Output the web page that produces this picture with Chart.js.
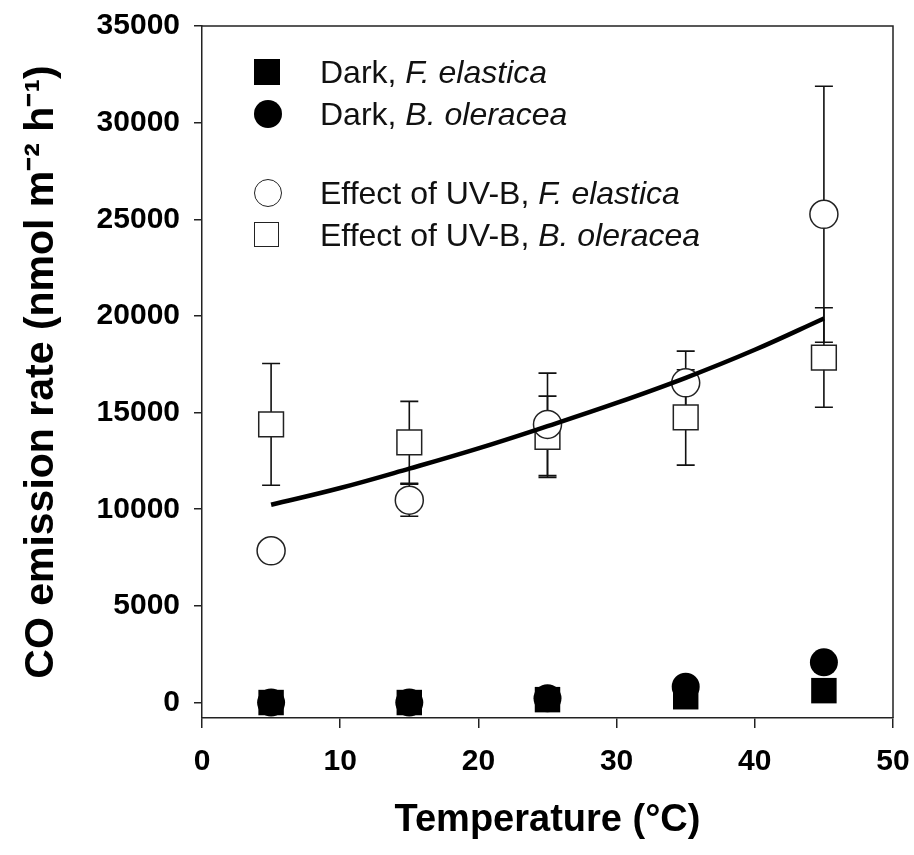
<!DOCTYPE html>
<html>
<head>
<meta charset="utf-8">
<title>CO emission rate vs temperature</title>
<script src="https://cdn.jsdelivr.net/npm/chart.js@4.4.1/dist/chart.umd.min.js"></script>
<style>
  body { margin: 0; background: #fff; }
  #wrap { position: relative; width: 914px; height: 855px; }
  #legend { position: absolute; left: 0; top: 0; font-family: 'Liberation Sans', Arial, sans-serif; font-size: 32px; color: #111; }
  .row { position: absolute; left: 254px; height: 30px; line-height: 30px; white-space: nowrap; }
  .mk { position: absolute; left: 0; top: 2px; box-sizing: border-box; }
  .row span.txt { position: absolute; left: 66px; top: 0px; }
  .sq-fill { width: 26px; height: 26px; background: #000; }
  .ci-fill { width: 28px; height: 28px; border-radius: 50%; background: #000; top: 1px; }
  .ci-open { width: 28px; height: 28px; border-radius: 50%; border: 1.5px solid #222; top: 1px; }
  .sq-open { width: 25px; height: 25px; border: 1.5px solid #222; }
</style>
</head>
<body>
<div id="wrap">
  <canvas id="chart" width="914" height="855"></canvas>
  <div id="legend">
    <div class="row" style="top:57px"><div class="mk sq-fill"></div><span class="txt">Dark, <i>F. elastica</i></span></div>
    <div class="row" style="top:99px"><div class="mk ci-fill"></div><span class="txt">Dark, <i>B. oleracea</i></span></div>
    <div class="row" style="top:178px"><div class="mk ci-open"></div><span class="txt">Effect of UV-B, <i>F. elastica</i></span></div>
    <div class="row" style="top:220px"><div class="mk sq-open"></div><span class="txt">Effect of UV-B, <i>B. oleracea</i></span></div>
  </div>
</div>
<script>
'use strict';

// Data
let temps = [5, 15, 25, 35, 45];
let darkFe = [0, 0, 150, 300, 615];
let darkBo = [0, 0, 220, 820, 2080];
let uvFe = [7850, 10470, 14390, 16540, 25260];
let uvFeErr = [400, 830, 2650, 1640, 6620];
let uvBo = [14390, 13460, 13750, 14750, 17850];
let uvBoErr = [3150, 2120, 2100, 2470, 2575];

// fitted curve
let fitTemps = [5, 10, 15, 20, 25, 30, 35, 40, 45];
let fitCO = [10230, 11100, 12100, 13150, 14300, 15500, 16800, 18250, 19870];

let xTicks = [0, 10, 20, 30, 40, 50];
let yTicks = [0, 5000, 10000, 15000, 20000, 25000, 30000, 35000];

function pts(xs, ys) {
  return xs.map((x, i) => ({ x: x, y: ys[i] }));
}

// error bars drawn under the markers
const errorBars = {
  id: 'errorBars',
  beforeDatasetsDraw(chart) {
    const ctx = chart.ctx;
    const xs = chart.scales.x;
    const ys = chart.scales.y;
    const sets = [[uvFe, uvFeErr], [uvBo, uvBoErr]];
    ctx.save();
    ctx.strokeStyle = '#111';
    ctx.lineWidth = 1.6;
    sets.forEach(([vals, errs]) => {
      for (let i = 0; i < temps.length; i++) {
        let px = xs.getPixelForValue(temps[i]);
        let top = ys.getPixelForValue(vals[i] + errs[i]);
        let bot = ys.getPixelForValue(vals[i] - errs[i]);
        ctx.beginPath();
        ctx.moveTo(px, top); ctx.lineTo(px, bot);
        ctx.moveTo(px - 9, top); ctx.lineTo(px + 9, top);
        ctx.moveTo(px - 9, bot); ctx.lineTo(px + 9, bot);
        ctx.stroke();
      }
    });
    ctx.restore();
  }
};

// closing box on top and right
const frame = {
  id: 'frame',
  afterDraw(chart) {
    const a = chart.chartArea;
    const ctx = chart.ctx;
    ctx.save();
    ctx.strokeStyle = '#222';
    ctx.lineWidth = 1.5;
    ctx.beginPath();
    ctx.moveTo(a.left, a.top); ctx.lineTo(a.right, a.top); ctx.lineTo(a.right, a.bottom);
    ctx.stroke();
    ctx.restore();
  }
};

const tickFont = { family: "'Liberation Sans', Arial, sans-serif", size: 30, weight: 'bold' };

new Chart(document.getElementById('chart').getContext('2d'), {
  type: 'scatter',
  data: {
    datasets: [
      {
        label: 'Fit',
        type: 'line',
        data: pts(fitTemps, fitCO),
        borderColor: '#000',
        borderWidth: 4.5,
        pointRadius: 0,
        tension: 0.4,
        fill: false,
        order: 0
      },
      {
        label: 'Effect of UV-B, F. elastica',
        data: pts(temps, uvFe),
        pointStyle: 'circle',
        pointRadius: 14,
        backgroundColor: '#fff',
        borderColor: '#222',
        borderWidth: 1.5,
        order: 1
      },
      {
        label: 'Effect of UV-B, B. oleracea',
        data: pts(temps, uvBo),
        pointStyle: 'rect',
        pointRadius: 17.5,
        backgroundColor: '#fff',
        borderColor: '#222',
        borderWidth: 1.5,
        order: 2
      },
      {
        label: 'Dark, F. elastica',
        data: pts(temps, darkFe),
        pointStyle: 'rect',
        pointRadius: 18,
        backgroundColor: '#000',
        borderColor: '#000',
        borderWidth: 0,
        order: 3
      },
      {
        label: 'Dark, B. oleracea',
        data: pts(temps, darkBo),
        pointStyle: 'circle',
        pointRadius: 14,
        backgroundColor: '#000',
        borderColor: '#000',
        borderWidth: 0,
        order: 4
      }
    ]
  },
  options: {
    responsive: false,
    animation: false,
    layout: { padding: { left: 0, right: 21, top: 26, bottom: 0 } },
    plugins: {
      legend: { display: false },
      tooltip: { enabled: false }
    },
    scales: {
      x: {
        type: 'linear',
        min: 0,
        max: 50,
        afterFit(scale) {
          scale.height = 137;
          scale.paddingLeft = 0;
          scale.paddingRight = 0;
        },
        afterBuildTicks(scale) { scale.ticks = xTicks.map(v => ({ value: v })); },
        grid: { display: true, drawOnChartArea: false, drawTicks: true, tickLength: 10, color: '#222', lineWidth: 1.5 },
        border: { display: true, color: '#222', width: 1.5 },
        ticks: { color: '#000', font: tickFont, padding: 16, maxRotation: 0, callback: v => String(v) },
        title: {
          display: true, text: 'Temperature (°C)', color: '#000',
          font: { family: "'Liberation Sans', Arial, sans-serif", size: 38, weight: 'bold' },
          padding: { top: 0, bottom: 12 }
        }
      },
      y: {
        type: 'linear',
        min: -800,
        max: 35000,
        afterFit(scale) {
          scale.width = 202;
          scale.paddingTop = 0;
          scale.paddingBottom = 0;
        },
        afterBuildTicks(scale) { scale.ticks = yTicks.map(v => ({ value: v })); },
        grid: { display: true, drawOnChartArea: false, drawTicks: true, tickLength: 8, color: '#222', lineWidth: 1.5 },
        border: { display: true, color: '#222', width: 1.5 },
        ticks: { color: '#000', font: tickFont, padding: 14, callback: v => String(v) },
        title: {
          display: true, text: 'CO emission rate (nmol m⁻² h⁻¹)', color: '#000',
          font: { family: "'Liberation Sans', Arial, sans-serif", size: 41, weight: 'bold' },
          padding: { top: 17, bottom: 0 }
        }
      }
    }
  },
  plugins: [errorBars, frame]
});
</script>
</body>
</html>
